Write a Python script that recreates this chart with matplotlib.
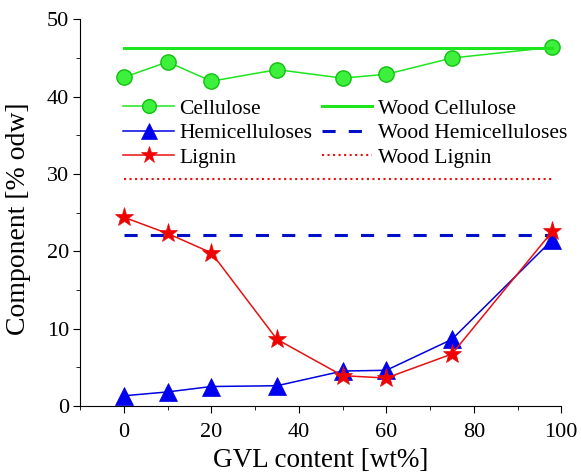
import matplotlib
matplotlib.use('Agg')
import matplotlib.pyplot as plt
from matplotlib.ticker import MultipleLocator

plt.rcParams['font.family'] = ['Liberation Serif', 'DejaVu Serif']

# GVL content [wt%]
gvl = [0, 10, 20, 35, 50, 60, 75, 98]
cellulose = [42.5, 44.5, 42.0, 43.5, 42.4, 42.9, 45.0, 46.4]
hemicelluloses = [1.3, 1.8, 2.5, 2.6, 4.5, 4.6, 8.6, 21.5]
lignin = [24.4, 22.3, 19.8, 8.6, 3.9, 3.6, 6.7, 22.6]

# wood reference values
wood_x = [0, 98]
wood_cellulose = 46.3
wood_hemi = 22.1
wood_lignin = 29.3

fig, ax = plt.subplots(figsize=(5.81, 4.73), dpi=100)
fig.subplots_adjust(left=0.138, right=0.966, top=0.959, bottom=0.142)

green = '#1ee61e'
blue = '#0000e0'
red = '#e81010'

l1, = ax.plot(gvl, cellulose, '-o', color=green, lw=1.1, ms=11,
              markeredgecolor='#10c010', markerfacecolor='#3cf03c', label='Cellulose')
l2, = ax.plot(wood_x, [wood_cellulose] * 2, '-', color=green, lw=2.2, label='Wood Cellulose')
l3, = ax.plot(gvl, hemicelluloses, '-^', color=blue, lw=1.1, ms=13,
              markerfacecolor='#0000f0', markeredgewidth=0.5, label='Hemicelluloses')
l4, = ax.plot(wood_x, [wood_hemi] * 2, '--', color='#0010c8', lw=2.2,
              dashes=(4.3, 4.3), label='Wood Hemicelluloses')
l5, = ax.plot(gvl, lignin, '-*', color=red, lw=1.1, ms=14,
              markerfacecolor='#f00000', markeredgewidth=0.5, label='Lignin')
l6, = ax.plot(wood_x, [wood_lignin] * 2, ':', color=red, lw=1.5, label='Wood Lignin')

# column-major fill: left column first
ax.legend(handles=[l1, l3, l5, l2, l4, l6], ncol=2, frameon=False,
          loc='upper left', bbox_to_anchor=(0.072, 0.817), fontsize=15.5,
          handlelength=2.33, handletextpad=0.28, columnspacing=0.42,
          labelspacing=0.2, borderaxespad=0, markerscale=0.9)

ax.set_xlim(-10, 100)
ax.set_ylim(0, 50)
ax.xaxis.set_major_locator(MultipleLocator(20))
ax.xaxis.set_minor_locator(MultipleLocator(10))
ax.yaxis.set_major_locator(MultipleLocator(10))
ax.yaxis.set_minor_locator(MultipleLocator(5))
ax.spines['top'].set_visible(False)
ax.spines['right'].set_visible(False)
ax.tick_params(which='major', length=5, labelsize=16)
ax.tick_params(axis='x', which='major', pad=7)
ax.tick_params(axis='y', which='major', pad=3)
ax.tick_params(which='minor', length=3)
ax.set_xlabel('GVL content [wt%]', fontsize=19.5)
ax.set_ylabel('Component [% odw]', fontsize=20)
ax.xaxis.set_label_coords(0.5, -0.108)
ax.yaxis.set_label_coords(-0.102, 0.484)

plt.savefig('out.png', dpi=100)
